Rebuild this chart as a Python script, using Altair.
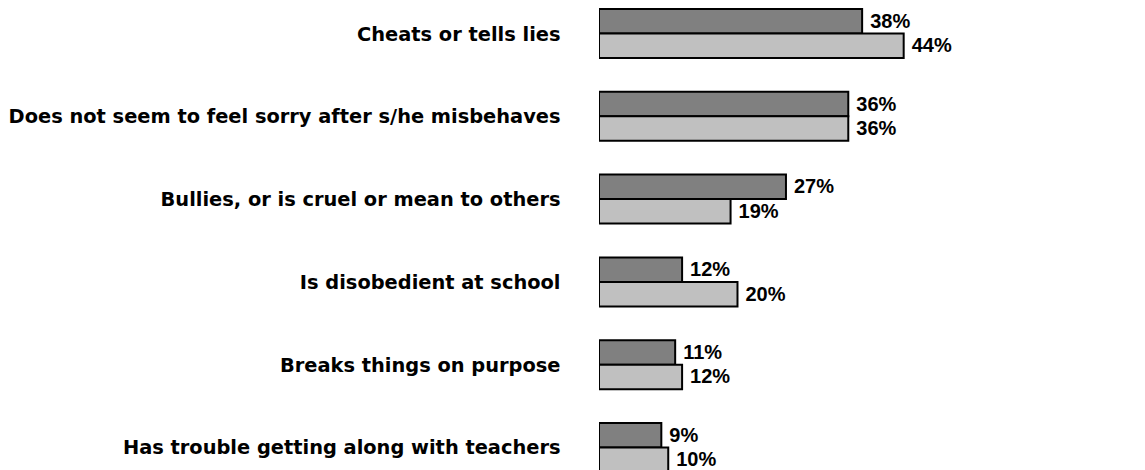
import altair as alt
import pandas as pd

categories = [
    "Cheats or tells lies",
    "Does not seem to feel sorry after s/he misbehaves",
    "Bullies, or is cruel or mean to others",
    "Is disobedient at school",
    "Breaks things on purpose",
    "Has trouble getting along with teachers",
]
series = ["Series 1", "Series 2"]
values_1 = [38, 36, 27, 12, 11, 9]
values_2 = [44, 36, 19, 20, 12, 10]
colors = ["#808080", "#C0C0C0"]

rows = []
for c, a, b in zip(categories, values_1, values_2):
    rows.append({"category": c, "series": series[0], "value": a})
    rows.append({"category": c, "series": series[1], "value": b})
df = pd.DataFrame(rows)
df["label"] = df["value"].astype(str) + "%"

y = alt.Y(
    "category:N",
    sort=categories,
    scale=alt.Scale(range=[9, 472], paddingInner=0.408, paddingOuter=0),
    axis=alt.Axis(
        title=None, domain=False, ticks=False, labelPadding=39, labelOffset=1,
        labelFont="DejaVu Sans", labelFontWeight="bold", labelFontSize=19.4,
        labelColor="black", labelLimit=0,
    ),
)
yoff = alt.YOffset("series:N", sort=series, scale=alt.Scale(paddingInner=0, paddingOuter=0))
x = alt.X("value:Q", scale=alt.Scale(domain=[0, 78.85]), axis=None)

bars = alt.Chart(df).mark_bar(stroke="black", strokeWidth=2, clip=True).encode(
    x=x, y=y, yOffset=yoff,
    color=alt.Color("series:N", sort=series, scale=alt.Scale(domain=series, range=colors), legend=None),
)
text = alt.Chart(df).mark_text(
    align="left", baseline="middle", dx=8, dy=0.5,
    font="Liberation Sans", fontWeight="bold", fontSize=20, color="black",
).encode(x=x, y=y, yOffset=yoff, text="label:N")

chart = (bars + text).properties(
    width=546, height=470,
    autosize=alt.AutoSizeParams(type="none"),
    padding={"left": 599, "top": 0, "right": 0, "bottom": 0},
).configure_view(stroke=None)

chart.save("out.html", embed_options={"renderer": "svg", "actions": False})
